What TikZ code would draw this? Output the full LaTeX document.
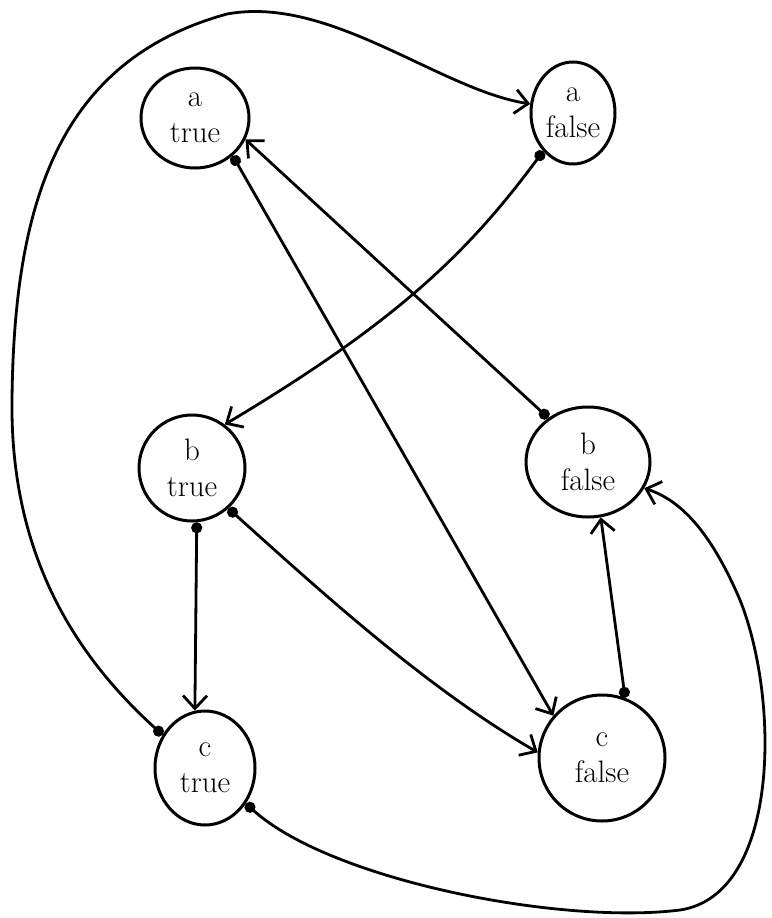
\documentclass[tikz,border=0pt]{standalone}
\usepackage{fontspec}
\usetikzlibrary{shapes.geometric,arrows.meta}
\begin{document}
\begin{tikzpicture}[x=1pt,y=-1pt,
  state/.style={draw, ellipse, line width=3pt, inner sep=0pt, align=center,
    font=\fontsize{31}{36}\selectfont},
  link/.style={line width=2.8pt, {Circle[length=11pt]}-{Straight Barb[length=13pt,width=24pt,line width=2.8pt]}}]
\useasboundingbox (0,0) rectangle (771,918);
\node[state, minimum width=108pt, minimum height=100pt] (at) at (195,118) {a\\true};
\node[state, minimum width=84pt, minimum height=102pt] (af) at (573,113) {a\\false};
\node[state, minimum width=106pt, minimum height=106pt] (bt) at (192,468) {b\\true};
\node[state, minimum width=124pt, minimum height=110pt] (bf) at (588,462) {b\\false};
\node[state, minimum width=100pt, minimum height=114pt] (ct) at (205,768) {c\\true};
\node[state, minimum width=126pt, minimum height=126pt] (cf) at (602,758) {c\\false};
% edges
\draw[link] (ct.142) .. controls (80,660) and (10,560) .. (12,400)
  .. controls (14,200) and (60,60) .. (227,14)
  .. controls (330,-5) and (440,90) .. (af.168);
\draw[link] (at.-45) -- (cf.139);
\draw[link] (bf.132) -- (at.-23);
\draw[link] (af.-128) .. controls (470,250) and (400,320) .. (bt.53);
\draw[link] (bt.-85) -- (ct.100);
\draw[link] (bt.-48) .. controls (330,600) and (430,690) .. (cf.175);
\draw[link] (cf.69) -- (bf.-77);
\draw[link] (ct.-41) .. controls (330,880) and (560,925) .. (680,910)
  .. controls (780,895) and (780,700) .. (740,600)
  .. controls (710,530) and (680,500) .. (bf.-25);
\end{tikzpicture}
\end{document}
